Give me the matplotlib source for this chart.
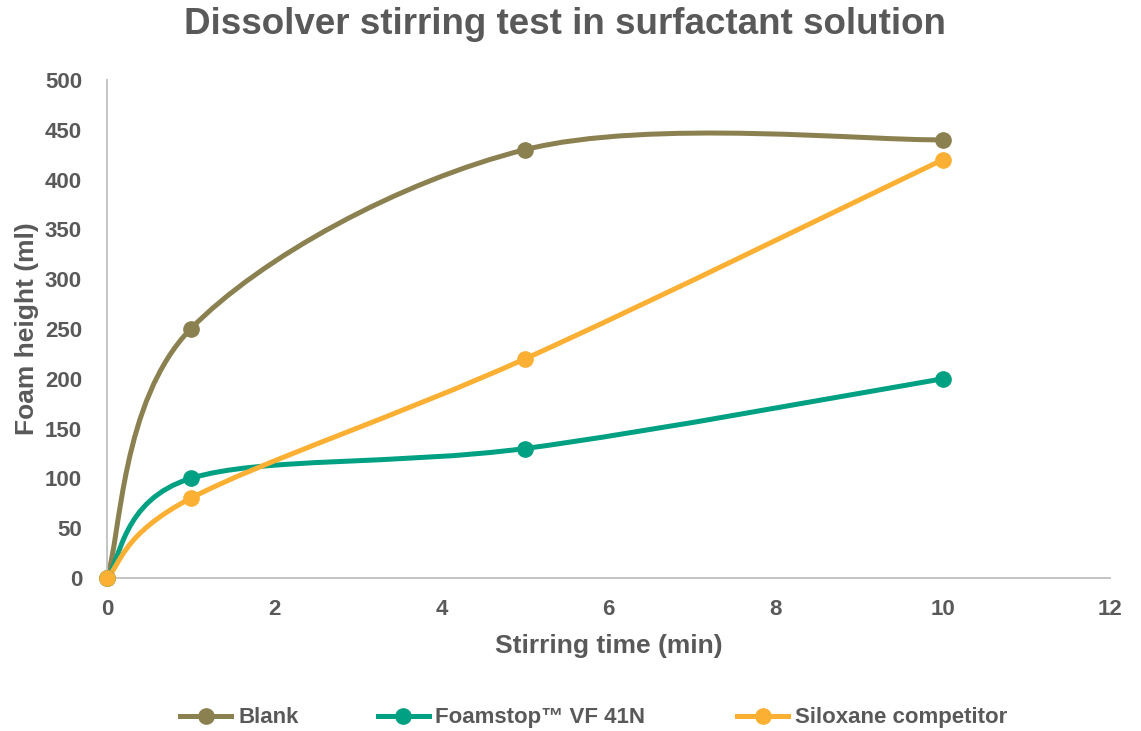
import numpy as np
import matplotlib
matplotlib.use("Agg")
from matplotlib import pyplot as plt
from matplotlib.path import Path
from matplotlib.patches import PathPatch
from matplotlib.lines import Line2D

plt.rcParams['font.family'] = ['Liberation Sans', 'DejaVu Sans']

stir_time = [0, 1, 5, 10]
blank = [0, 250, 430, 440]
foamstop = [0, 100, 130, 200]
siloxane = [0, 80, 220, 420]
names = ['Blank', 'Foamstop\u2122 VF 41N', 'Siloxane competitor']
colors = ['#8B8050', '#00A083', '#FBB034']

txt = '#595959'
fig = plt.figure(figsize=(11.41, 7.31), dpi=100)
ax = fig.add_axes([0.0938, 0.2093, 0.879, 0.6813])
ax.set_xlim(0, 12)
ax.set_ylim(0, 500)

# pixel scale so the smoothing behaves like Excel (screen space)
sx = 0.879 * 1141 / 12
sy = 0.6813 * 731 / 500


def smooth_path(xs, ys):
    p = np.column_stack([np.array(xs) * sx, np.array(ys) * sy]).astype(float)
    n = len(p)
    verts = [p[0]]
    codes = [Path.MOVETO]
    for i in range(n - 1):
        p0 = p[i - 1] if i > 0 else p[i]
        p3 = p[i + 2] if i + 2 < n else p[i + 1]
        c1 = p[i] + (p[i + 1] - p0) / 6
        c2 = p[i + 1] - (p3 - p[i]) / 6
        verts += [c1, c2, p[i + 1]]
        codes += [Path.CURVE4] * 3
    v = np.array(verts)
    v[:, 0] /= sx
    v[:, 1] /= sy
    return Path(v, codes)


for ys, c in zip([blank, foamstop, siloxane], colors):
    ax.add_patch(PathPatch(smooth_path(stir_time, ys), fill=False, edgecolor=c,
                           lw=3.6, capstyle='round', clip_on=False))
    ax.plot(stir_time, ys, 'o', color=c, markersize=11, clip_on=False, zorder=5)

for s in ['top', 'right']:
    ax.spines[s].set_visible(False)
for s in ['left', 'bottom']:
    ax.spines[s].set_color('#BFBFBF')
    ax.spines[s].set_linewidth(1.3)

ax.set_xticks(range(0, 13, 2))
ax.set_yticks(range(0, 501, 50))
ax.tick_params(length=0, labelsize=16, labelcolor=txt)
ax.tick_params(axis='y', pad=18)
ax.tick_params(axis='x', pad=15)
for lab in ax.get_xticklabels() + ax.get_yticklabels():
    lab.set_fontweight('bold')

ax.set_xlabel('Stirring time (min)', fontsize=19, fontweight='bold', color=txt, labelpad=10)
ax.set_ylabel('Foam height (ml)', fontsize=19, fontweight='bold', color=txt, labelpad=4)
fig.suptitle('Dissolver stirring test in surfactant solution', fontsize=26.5,
             fontweight='bold', color=txt, x=0.495, y=0.99)

# legend entries placed one by one (Excel spaces them in equal slots)
leg_x = [0.158, 0.331, 0.646]
for name, c, lx in zip(names, colors, leg_x):
    h = Line2D([], [], color=c, lw=3.6, marker='o', markersize=11)
    leg = fig.legend([h], [name], loc='center left', bbox_to_anchor=(lx, 0.018),
                     frameon=False, fontsize=16, handlelength=2.3, handletextpad=0.3,
                     borderpad=0, borderaxespad=0)
    for t in leg.get_texts():
        t.set_color(txt)
        t.set_fontweight('bold')

fig.savefig('out.png', dpi=100)
